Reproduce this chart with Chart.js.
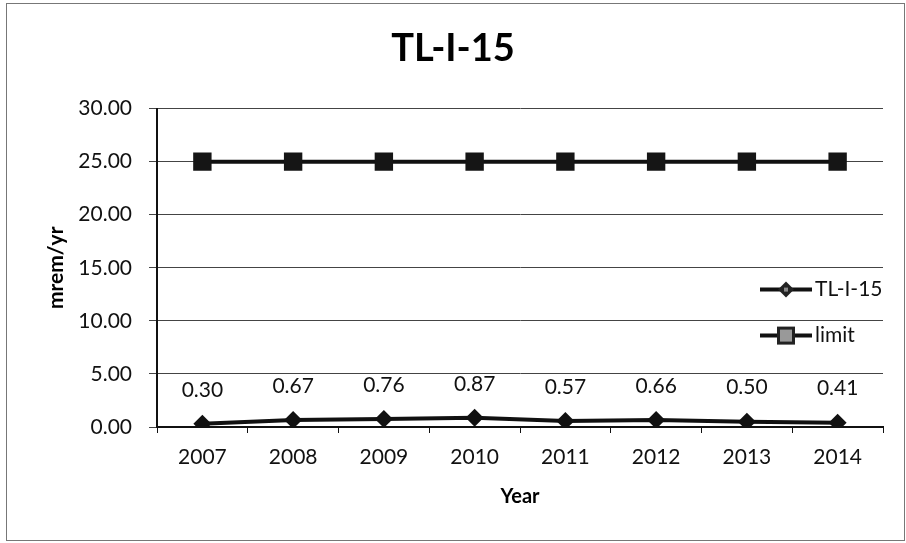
<!DOCTYPE html>
<html><head><meta charset="utf-8">
<script src="https://cdn.jsdelivr.net/npm/chart.js@4/dist/chart.umd.min.js"></script>
<style>
html,body{margin:0;padding:0;background:#fff;}
#wrap{position:relative;width:906px;height:543px;}
#wrap:after{content:"";position:absolute;left:6px;top:3px;right:1px;bottom:2px;border:1px solid #777;pointer-events:none;}
canvas{display:block;}
</style></head>
<body><div id="wrap"><canvas id="c" width="906" height="543"></canvas></div>
<script>
const categories = ['2007','2008','2009','2010','2011','2012','2013','2014'];
const seriesTL = [0.30, 0.67, 0.76, 0.87, 0.57, 0.66, 0.50, 0.41];
const seriesLimit = [25, 25, 25, 25, 25, 25, 25, 25];
const seriesNames = ['TL-I-15', 'limit'];
const FONT = 'Lato, "Open Sans", sans-serif';

const labelPlugin = {
  id: 'labels',
  afterDatasetsDraw(chart) {
    const ctx = chart.ctx;
    const meta = chart.getDatasetMeta(0);
    ctx.save();
    ctx.font = '21px ' + FONT;
    ctx.fillStyle = '#111';
    ctx.textAlign = 'center';
    ctx.textBaseline = 'middle';
    meta.data.forEach((pt, i) => {
      ctx.fillText(seriesTL[i].toFixed(2), pt.x, pt.y - 34);
    });
    ctx.restore();
  }
};

const legendPlugin = {
  id: 'customLegend',
  afterDraw(chart) {
    const ctx = chart.ctx, a = chart.chartArea;
    const x0 = a.right - 123, x1 = a.right - 71, xm = (x0 + x1) / 2;
    const rows = [a.top + 181, a.top + 227];
    ctx.save();
    rows.forEach((y, i) => {
      ctx.strokeStyle = '#111';
      ctx.lineWidth = 4;
      ctx.beginPath(); ctx.moveTo(x0, y); ctx.lineTo(x1, y); ctx.stroke();
      ctx.fillStyle = '#222';
      if (i === 0) {
        ctx.beginPath();
        ctx.moveTo(xm, y - 8); ctx.lineTo(xm + 8, y); ctx.lineTo(xm, y + 8); ctx.lineTo(xm - 8, y);
        ctx.closePath(); ctx.fill();
        ctx.fillStyle = '#888';
        ctx.fillRect(xm - 2, y - 2, 4, 4);
      } else {
        ctx.fillRect(xm - 9, y - 9, 18, 18);
        ctx.fillStyle = '#999';
        ctx.fillRect(xm - 6, y - 6, 12, 12);
      }
      ctx.fillStyle = '#111';
      ctx.font = '21px ' + FONT;
      ctx.textAlign = 'left';
      ctx.textBaseline = 'middle';
      ctx.fillText(seriesNames[i], x1 + 3, y);
    });
    ctx.restore();
  }
};

new Chart(document.getElementById('c'), {
  type: 'line',
  data: {
    labels: categories,
    datasets: [
      { label: seriesNames[0], data: seriesTL, borderColor: '#111', backgroundColor: '#111',
        borderWidth: 4, pointStyle: 'rectRot', pointRadius: 9, pointBorderWidth: 0, pointHoverRadius: 9 },
      { label: seriesNames[1], data: seriesLimit, borderColor: '#111', backgroundColor: '#151515',
        borderWidth: 4, pointStyle: 'rect', pointRadius: 13, pointBorderWidth: 0, pointHoverRadius: 13 }
    ]
  },
  options: {
    responsive: false,
    animation: false,
    events: [],
    layout: { padding: { left: 23, right: 23, top: 0, bottom: 0 } },
    plugins: {
      legend: { display: false },
      tooltip: { enabled: false },
      title: { display: true, text: 'TL-I-15', color: '#000',
        font: { family: FONT, size: 38, weight: 'bold', lineHeight: 1.2 },
        padding: { top: 26, bottom: 37 } }
    },
    scales: {
      x: {
        offset: true,
        grid: { offset: true, drawOnChartArea: false, color: '#111', tickLength: 6, lineWidth: 1 },
        border: { color: '#111', width: 2 },
        ticks: { color: '#111', font: { family: FONT, size: 21 }, padding: 12 },
        title: { display: true, text: 'Year', color: '#000', font: { family: FONT, size: 20, weight: 'bold' }, padding: { top: 34, bottom: 34 } },
        afterFit(s) { s.height = 116; }
      },
      y: {
        min: 0, max: 30,
        ticks: { stepSize: 5, color: '#111', font: { family: FONT, size: 21 }, padding: 17,
          callback: v => Number(v).toFixed(2) },
        grid: { color: '#444', tickLength: 8, lineWidth: 1 },
        border: { color: '#111', width: 2 },
        title: { display: true, text: 'mrem/yr', color: '#000', font: { family: FONT, size: 21, weight: 'bold' }, padding: { top: 21, bottom: 21 } },
        afterFit(s) { s.width = 134; }
      }
    }
  },
  plugins: [labelPlugin, legendPlugin]
});
</script>
</body></html>
